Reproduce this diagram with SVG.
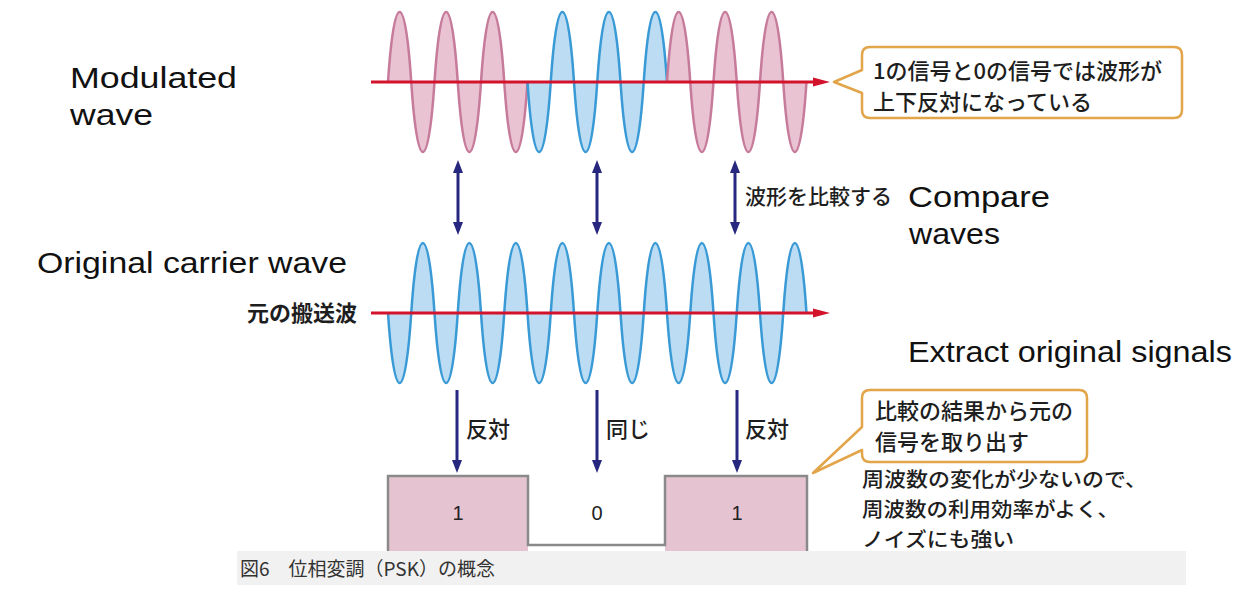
<svg xmlns="http://www.w3.org/2000/svg" xmlns:xlink="http://www.w3.org/1999/xlink" width="1249" height="589" viewBox="0 0 1249 589">
<style>
.pk{fill:#e9c3d2;stroke:#c67b9b;stroke-width:2.5}
.bl{fill:#bcdcf3;stroke:#3a9ad6;stroke-width:2.5}
.axis{stroke:#d3122c;stroke-width:3;fill:none}
.axhead{fill:#d3122c}
.nav{stroke:#27277f;stroke-width:3;fill:none}
.en{font-family:"Liberation Sans",Arial,sans-serif;font-size:30px;fill:#111}
.jp{font-family:"Noto Sans CJK JP","Noto Sans",sans-serif;font-size:21px;font-weight:500;fill:#1e1e1e}
.num{font-family:"Liberation Sans",Arial,sans-serif;font-size:20px;fill:#222;text-anchor:middle}
.call{fill:#fff;stroke:#e2a54a;stroke-width:2.5;stroke-linejoin:round}
.sig{fill:none;stroke:#8a8a8a;stroke-width:2.5}
.sigfill{fill:#e6c3d1}
</style>
<defs>
<path id="pu" d="M0,0 c2.5,-38 6.4,-70 11.625,-70 s9.125,32 11.625,70 s6.4,70 11.625,70 s9.125,-32 11.625,-70"/>
<path id="pd" d="M0,0 c2.5,38 6.4,70 11.625,70 s9.125,-32 11.625,-70 s6.4,-70 11.625,-70 s9.125,32 11.625,70"/>
<marker id="nh" viewBox="0 0 13 10" markerUnits="userSpaceOnUse" markerWidth="13" markerHeight="10" refX="1" refY="5" orient="auto-start-reverse">
<path d="M0,0 L13,5 L0,10 z" fill="#27277f"/>
</marker>
</defs>
<rect width="1249" height="589" fill="#fff"/>

<g id="modulated-wave">
<use href="#pu" x="388" y="82" class="pk"/>
<use href="#pu" x="434.5" y="82" class="pk"/>
<use href="#pu" x="481" y="82" class="pk"/>
<use href="#pd" x="527.5" y="82" class="bl"/>
<use href="#pd" x="574" y="82" class="bl"/>
<use href="#pd" x="620.5" y="82" class="bl"/>
<use href="#pu" x="667" y="82" class="pk"/>
<use href="#pu" x="713.5" y="82" class="pk"/>
<use href="#pu" x="760" y="82" class="pk"/>
<line class="axis" x1="371" y1="82" x2="815" y2="82"/>
<path class="axhead" d="M813,77.5 L830,82 L813,86.5 z"/>
</g>

<g id="carrier-wave">
<use href="#pd" x="388" y="313" class="bl"/>
<use href="#pd" x="434.5" y="313" class="bl"/>
<use href="#pd" x="481" y="313" class="bl"/>
<use href="#pd" x="527.5" y="313" class="bl"/>
<use href="#pd" x="574" y="313" class="bl"/>
<use href="#pd" x="620.5" y="313" class="bl"/>
<use href="#pd" x="667" y="313" class="bl"/>
<use href="#pd" x="713.5" y="313" class="bl"/>
<use href="#pd" x="760" y="313" class="bl"/>
<line class="axis" x1="371" y1="313" x2="815" y2="313"/>
<path class="axhead" d="M813,308.5 L830,313 L813,317.5 z"/>
<text class="jp" x="357" y="321" text-anchor="end" style="font-size:22px;font-weight:bold">元の搬送波</text>
</g>

<g id="connectors">
<line class="nav" x1="458" y1="172" x2="458" y2="223" marker-start="url(#nh)" marker-end="url(#nh)"/>
<line class="nav" x1="597" y1="172" x2="597" y2="223" marker-start="url(#nh)" marker-end="url(#nh)"/>
<line class="nav" x1="735" y1="172" x2="735" y2="223" marker-start="url(#nh)" marker-end="url(#nh)"/>
<line class="nav" x1="457" y1="390" x2="457" y2="461" marker-end="url(#nh)"/>
<line class="nav" x1="597" y1="390" x2="597" y2="461" marker-end="url(#nh)"/>
<line class="nav" x1="737" y1="390" x2="737" y2="461" marker-end="url(#nh)"/>
</g>

<g id="compare-label">
<text class="jp" x="745" y="204">波形を比較する</text>
</g>
<g id="arrow-labels">
<text class="jp" x="466" y="437" style="font-size:22px">反対</text>
<text class="jp" x="606" y="437" style="font-size:22px">同じ</text>
<text class="jp" x="745" y="437" style="font-size:22px">反対</text>
</g>

<g id="signal">
<rect class="sigfill" x="388" y="476" width="140" height="76"/>
<rect class="sigfill" x="665" y="476" width="142" height="76"/>
<path class="sig" d="M388,552 V476 H528 V545 H665 V476 H807 V552"/>
<text class="num" x="458" y="520">1</text>
<text class="num" x="597" y="520">0</text>
<text class="num" x="737" y="520">1</text>
</g>

<g id="callout-1">
<path class="call" d="M870,47 H1174 Q1182,47 1182,55 V110 Q1182,118 1174,118 H870 Q862,118 862,110 V93 L834,82 L862,70 V55 Q862,47 870,47 z"/>
<text class="jp" x="873" y="79" style="font-size:22px">1の信号と0の信号では波形が</text>
<text class="jp" x="873" y="110" style="font-size:22px">上下反対になっている</text>
</g>

<g id="callout-2">
<path class="call" d="M870,390 H1079 Q1087,390 1087,398 V454 Q1087,462 1079,462 H870 Q862,462 862,454 V450 L813,473 L862,427 V398 Q862,390 870,390 z"/>
<text class="jp" x="875" y="419" style="font-size:22px">比較の結果から元の</text>
<text class="jp" x="875" y="450" style="font-size:22px">信号を取り出す</text>
</g>

<g id="note">
<text class="jp" x="862" y="487" style="font-size:20px" textLength="285" lengthAdjust="spacingAndGlyphs">周波数の変化が少ないので、</text>
<text class="jp" x="862" y="517" style="font-size:20px" textLength="257" lengthAdjust="spacingAndGlyphs">周波数の利用効率がよく、</text>
<text class="jp" x="862" y="547" style="font-size:20px" textLength="152" lengthAdjust="spacingAndGlyphs">ノイズにも強い</text>
</g>

<g id="caption">
<rect x="237" y="551" width="949" height="34" fill="#f1f1f1"/>
<text x="240" y="576" font-family="'Noto Sans CJK JP','Noto Sans',sans-serif" font-size="19" fill="#333">図6　位相変調（PSK）の概念</text>
</g>

<g id="english-labels">
<text class="en" x="70" y="88" textLength="167" lengthAdjust="spacingAndGlyphs">Modulated</text>
<text class="en" x="70" y="125" textLength="83" lengthAdjust="spacingAndGlyphs">wave</text>
<text class="en" x="37" y="273" textLength="310" lengthAdjust="spacingAndGlyphs">Original carrier wave</text>
<text class="en" x="908" y="207" textLength="142" lengthAdjust="spacingAndGlyphs">Compare</text>
<text class="en" x="909" y="244" textLength="91" lengthAdjust="spacingAndGlyphs">waves</text>
<text class="en" x="908" y="362" textLength="324" lengthAdjust="spacingAndGlyphs">Extract original signals</text>
</g>
</svg>
